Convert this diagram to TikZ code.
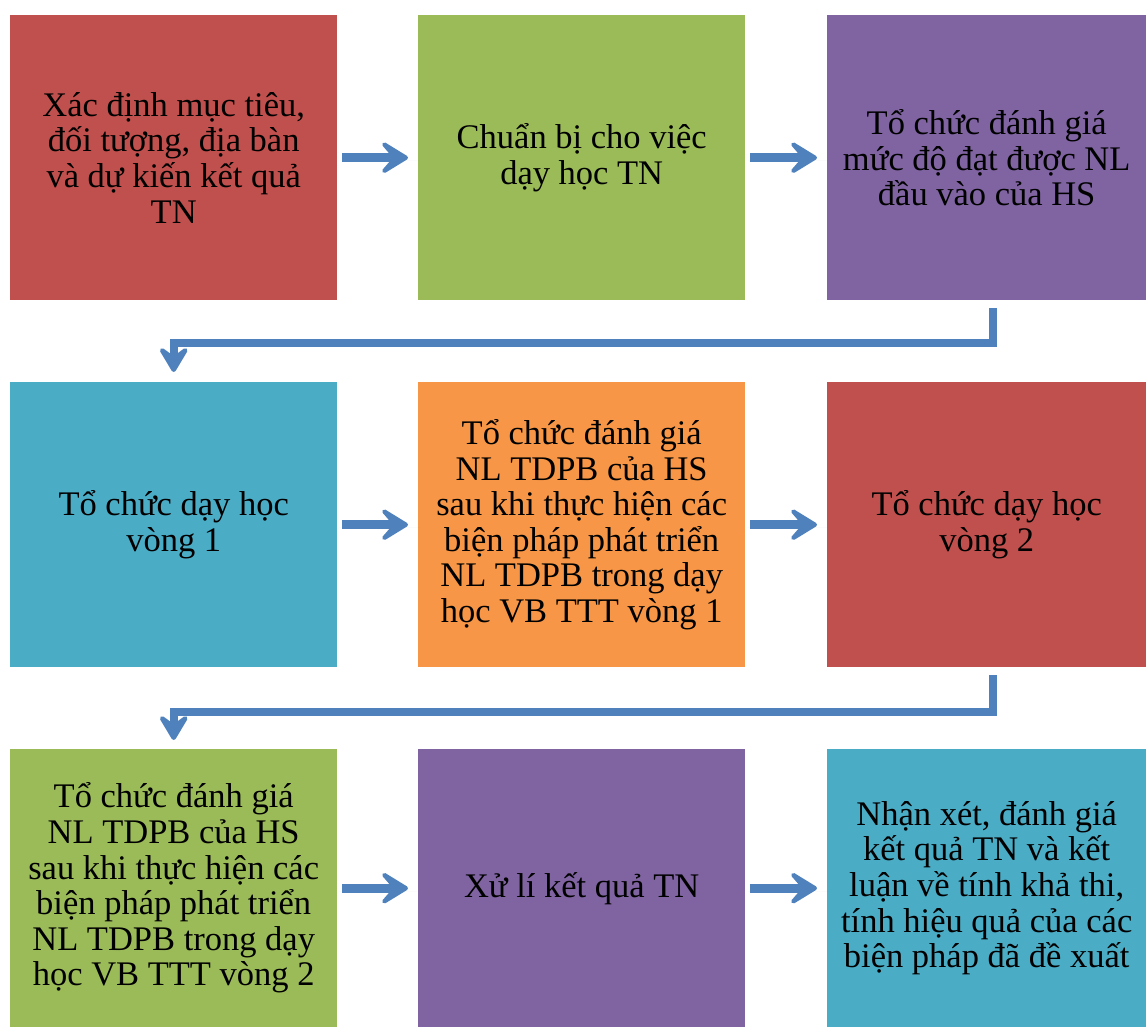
\documentclass[tikz,border=0pt]{standalone}
\usepackage{fontspec}
\setmainfont{Liberation Serif}
\usetikzlibrary{arrows.meta,shadows}
\definecolor{cred}{HTML}{C0504D}
\definecolor{cgreen}{HTML}{9BBB59}
\definecolor{cpurple}{HTML}{8064A2}
\definecolor{ccyan}{HTML}{4BACC6}
\definecolor{corange}{HTML}{F79646}
\definecolor{carrow}{HTML}{4F81BD}
\tikzset{
  stepbox/.style={draw=none, minimum width=327pt, minimum height=285pt,
    align=center, font=\fontsize{34.5}{35.6}\selectfont, inner sep=0pt, anchor=north west},
  flow/.style={draw=carrow, line width=9pt,
    -{Stealth[length=36pt,width=44pt,inset=19pt,round]},
    drop shadow={opacity=0.25, shadow xshift=2pt, shadow yshift=-3pt}},
  turn/.style={draw=carrow, line width=8pt,
    -{Stealth[length=32pt,width=38pt,inset=14pt,round]}},
}
\begin{document}
\begin{tikzpicture}[x=1pt,y=1pt]
\useasboundingbox (0,0) rectangle (1146,-1027);
% row 1
\node[stepbox, fill=cred]    (a) at (10,-15)  {Xác định mục tiêu,\\đối tượng, địa bàn\\và dự kiến kết quả\\TN};
\node[stepbox, fill=cgreen]  (b) at (418,-15) {Chuẩn bị cho việc\\dạy học TN};
\node[stepbox, fill=cpurple, minimum width=319pt] (c) at (827,-15) {Tổ chức đánh giá\\mức độ đạt được NL\\đầu vào của HS};
% row 2
\node[stepbox, fill=ccyan]   (d) at (10,-382)  {Tổ chức dạy học\\vòng 1};
\node[stepbox, fill=corange] (e) at (418,-382) {Tổ chức đánh giá\\NL TDPB của HS\\sau khi thực hiện các\\biện pháp phát triển\\NL TDPB trong dạy\\học VB TTT vòng 1};
\node[stepbox, fill=cred, minimum width=319pt] (f) at (827,-382) {Tổ chức dạy học\\vòng 2};
% row 3
\node[stepbox, fill=cgreen, minimum height=278pt]  (g) at (10,-749)  {Tổ chức đánh giá\\NL TDPB của HS\\sau khi thực hiện các\\biện pháp phát triển\\NL TDPB trong dạy\\học VB TTT vòng 2};
\node[stepbox, fill=cpurple, minimum height=278pt] (h) at (418,-749) {Xử lí kết quả TN};
\node[stepbox, fill=ccyan, minimum height=278pt, minimum width=319pt] (i) at (827,-749) {Nhận xét, đánh giá\\kết quả TN và kết\\luận về tính khả thi,\\tính hiệu quả của các\\biện pháp đã đề xuất};
% horizontal arrows between neighbouring steps
\begin{scope}[shorten <=5pt, shorten >=10pt]
\draw[flow] (a.east) -- (b.west);
\draw[flow] (b.east) -- (c.west);
\draw[flow] (d.east) -- (e.west);
\draw[flow] (e.east) -- (f.west);
\draw[flow] (g.east) -- (h.west);
\draw[flow] (h.east) -- (i.west);
\end{scope}
% elbow connectors from the end of one row to the start of the next
\coordinate (c1) at ([xshift=6pt,yshift=-8pt]c.south);
\coordinate (f1) at ([xshift=6pt,yshift=-8pt]f.south);
\draw[turn, shorten >=10pt] (c1) -- ++(0,-35) -| (d.north);
\draw[turn, shorten >=9pt] (f1) -- ++(0,-37) -| (g.north);
\end{tikzpicture}
\end{document}
